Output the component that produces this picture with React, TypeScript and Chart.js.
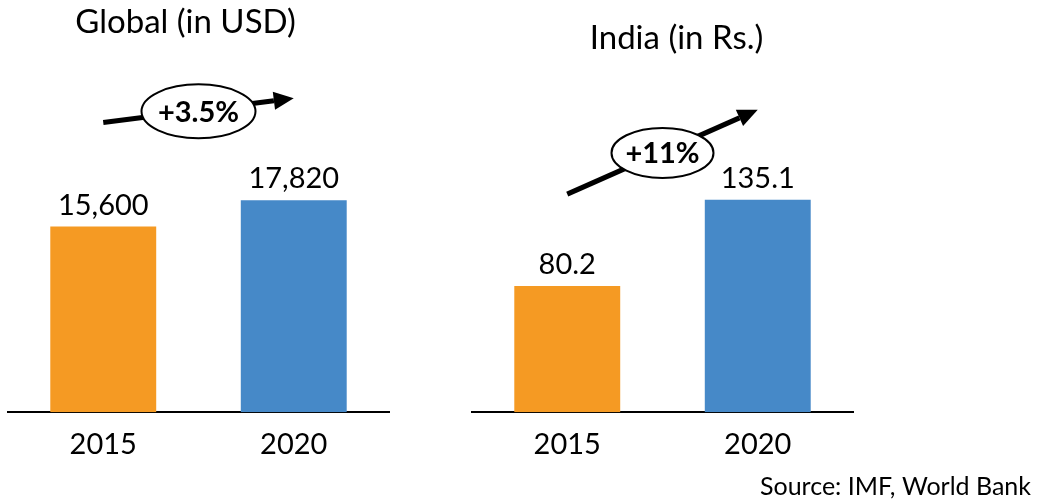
import React, { useEffect, useRef } from "react";
import { Chart, registerables } from "chart.js";

Chart.register(...registerables);

// ---- data ----
const categories = ["2015", "2020"];
const globalValues = [15600, 17820];
const indiaValues = [80.2, 135.1];
const growthLabels = ["+3.5%", "+11%"];
const chartTitles = ["Global (in USD)", "India (in Rs.)"];
const sourceText = "Source: IMF, World Bank";
const barColors = ["#F59A23", "#4689C8"];

const FONT = "Lato, 'Open Sans', sans-serif";

type Cfg = {
  values: number[];
  title: string;
  growth: string;
  format: (v: number) => string;
  yMax: number;
  pad: { left: number; right: number };
  titleDx: number;
  titleY: number;
  arrowOff: [number, number];
  ellipse: [number, number];
  source?: boolean;
};

const overlayPlugin = {
  id: "overlay",
  afterDatasetsDraw(chart: any, _args: any, opts: any) {
    const cfg: Cfg = opts.cfg;
    const ctx = chart.ctx;
    const area = chart.chartArea;
    const meta = chart.getDatasetMeta(0);
    ctx.save();
    // value labels
    ctx.fillStyle = "#000";
    ctx.font = `29px ${FONT}`;
    ctx.textAlign = "center";
    ctx.textBaseline = "alphabetic";
    meta.data.forEach((bar: any, i: number) => {
      ctx.fillText(cfg.format(cfg.values[i]), bar.x, bar.y - 12);
    });
    // title
    ctx.font = `33px ${FONT}`;
    ctx.fillText(cfg.title, (area.left + area.right) / 2 + cfg.titleDx, cfg.titleY);
    // arrow
    const b0 = meta.data[0];
    const b1 = meta.data[1];
    const x0 = b0.x, y0 = b0.y - cfg.arrowOff[0];
    const x1 = b1.x, y1 = b1.y - cfg.arrowOff[1];
    const ang = Math.atan2(y1 - y0, x1 - x0);
    const headLen = 20, headHalf = 9;
    const bx = x1 - headLen * Math.cos(ang);
    const by = y1 - headLen * Math.sin(ang);
    ctx.strokeStyle = "#000";
    ctx.lineWidth = 5;
    ctx.beginPath();
    ctx.moveTo(x0, y0);
    ctx.lineTo(bx, by);
    ctx.stroke();
    ctx.beginPath();
    ctx.moveTo(x1, y1);
    ctx.lineTo(bx + headHalf * Math.sin(ang), by - headHalf * Math.cos(ang));
    ctx.lineTo(bx - headHalf * Math.sin(ang), by + headHalf * Math.cos(ang));
    ctx.closePath();
    ctx.fillStyle = "#000";
    ctx.fill();
    // ellipse with growth label
    const mx = (x0 + x1) / 2, my = (y0 + y1) / 2 + 1;
    ctx.beginPath();
    ctx.ellipse(mx, my, cfg.ellipse[0], cfg.ellipse[1], 0, 0, Math.PI * 2);
    ctx.fillStyle = "#fff";
    ctx.fill();
    ctx.lineWidth = 2;
    ctx.stroke();
    ctx.fillStyle = "#000";
    ctx.font = `bold 29px ${FONT}`;
    ctx.textBaseline = "middle";
    ctx.fillText(cfg.growth, mx, my + 1);
    // source
    if (cfg.source) {
      ctx.font = `25px ${FONT}`;
      ctx.textAlign = "right";
      ctx.textBaseline = "alphabetic";
      ctx.fillText(sourceText, chart.width - 6, 495);
    }
    ctx.restore();
  },
};

function BarPanel({ cfg, left, width }: { cfg: Cfg; left: number; width: number }) {
  const ref = useRef<HTMLCanvasElement | null>(null);
  useEffect(() => {
    if (!ref.current) return;
    const chart = new Chart(ref.current, {
      type: "bar",
      data: {
        labels: categories,
        datasets: [
          {
            data: cfg.values,
            backgroundColor: barColors,
            borderWidth: 0,
            categoryPercentage: 1,
            barPercentage: 0.556,
          },
        ],
      },
      options: {
        responsive: false,
        animation: false,
        events: [],
        layout: { padding: { top: 60, bottom: 25, left: cfg.pad.left, right: cfg.pad.right } },
        plugins: {
          legend: { display: false },
          tooltip: { enabled: false },
          title: { display: false },
          overlay: { cfg },
        } as any,
        scales: {
          x: {
            grid: { display: false, drawTicks: false },
            border: { display: true, color: "#000", width: 2 },
            ticks: { color: "#000", padding: 15, font: { family: FONT, size: 29 } },
          },
          y: { display: false, min: 0, max: cfg.yMax },
        },
      },
      plugins: [overlayPlugin],
    });
    return () => chart.destroy();
  }, []);
  return (
    <canvas
      ref={ref}
      width={width}
      height={502}
      style={{ position: "absolute", left, top: 0, width, height: 502 }}
    />
  );
}

export default function App() {
  const globalCfg: Cfg = {
    values: globalValues,
    title: chartTitles[0],
    growth: growthLabels[0],
    format: (v) => v.toLocaleString("en-US"),
    yMax: 29600,
    pad: { left: 8, right: 41 },
    titleDx: -13,
    titleY: 33,
    arrowOff: [104, 102],
    ellipse: [57, 27],
  };
  const indiaCfg: Cfg = {
    values: indiaValues,
    title: chartTitles[1],
    growth: growthLabels[1],
    format: (v) => v.toFixed(1),
    yMax: 224,
    pad: { left: 32, right: 184 },
    titleDx: 14,
    titleY: 49,
    arrowOff: [92, 90],
    ellipse: [51, 25],
    source: true,
  };
  return (
    <div style={{ position: "absolute", left: 0, top: 0, width: 1037, height: 502, background: "#fff" }}>
      <BarPanel cfg={globalCfg} left={0} width={430} />
      <BarPanel cfg={indiaCfg} left={440} width={597} />
    </div>
  );
}
